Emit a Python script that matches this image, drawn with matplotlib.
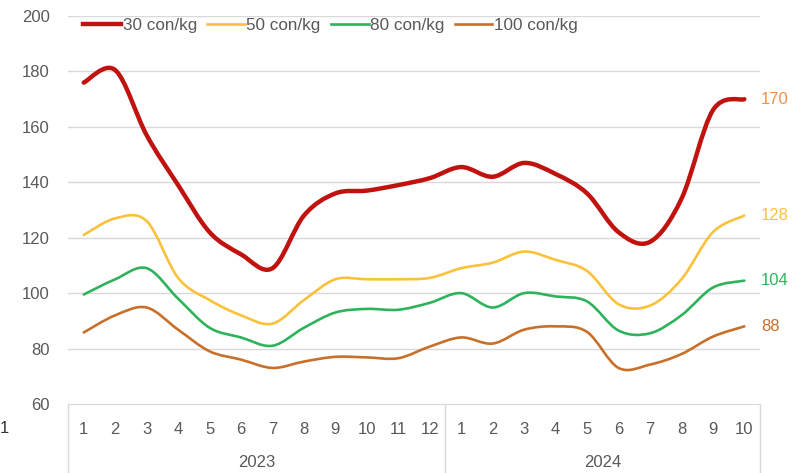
import numpy as np
import matplotlib.pyplot as plt
from matplotlib.path import Path
from matplotlib.patches import PathPatch
from matplotlib.lines import Line2D

plt.rcParams['font.family'] = ['Liberation Sans Narrow', 'Liberation Sans', 'DejaVu Sans']

# data: monthly prices by pig weight class
months = ['1', '2', '3', '4', '5', '6', '7', '8', '9', '10', '11', '12',
          '1', '2', '3', '4', '5', '6', '7', '8', '9', '10']
years = ['2023', '2024']
year_lengths = [12, 10]

s30 = [176, 180.5, 157, 139, 122, 114, 109, 128, 136, 137, 139, 141.5,
       145.5, 142, 147, 143, 136, 122, 118.5, 134, 166, 170]
s50 = [121, 127, 126, 105.5, 97.5, 92, 89, 97.5, 105, 105, 105, 105.5,
       109, 111, 115, 112, 108, 96, 95.5, 105, 122, 128]
s80 = [99.5, 105, 109, 98, 87.5, 84, 81, 87.5, 93, 94.3, 94, 96.5,
       100, 94.8, 100, 98.8, 97, 86.5, 85.5, 92, 102, 104.5]
s100 = [85.8, 92, 94.8, 86.8, 79, 76, 73, 75.3, 77, 76.8, 76.5, 80.7,
        84, 81.8, 86.8, 88, 86, 73, 74.2, 78, 84.3, 88]

names = ['30 con/kg', '50 con/kg', '80 con/kg', '100 con/kg']
series = [s30, s50, s80, s100]
colors = ['#C0130F', '#FAC23A', '#2EB35C', '#C8702A']
widths = [3.2, 1.9, 1.9, 1.9]
end_labels = ['170', '128', '104', '88']
end_colors = ['#F0904A', '#FAC23A', '#2EB35C', '#C8702A']


# smooth path like a spreadsheet "smoothed line" (Bezier through every point)
def smoothPath(x, y, t=1/6):
    x = np.asarray(x, float)
    y = np.asarray(y, float)
    n = len(x)
    verts = [(x[0], y[0])]
    codes = [Path.MOVETO]
    for i in range(n - 1):
        x0, y0 = (x[i - 1], y[i - 1]) if i > 0 else (x[i], y[i])
        x3, y3 = (x[i + 2], y[i + 2]) if i + 2 < n else (x[i + 1], y[i + 1])
        c1 = (x[i] + (x[i + 1] - x0) * t, y[i] + (y[i + 1] - y0) * t)
        c2 = (x[i + 1] - (x3 - x[i]) * t, y[i + 1] - (y3 - y[i]) * t)
        verts += [c1, c2, (x[i + 1], y[i + 1])]
        codes += [Path.CURVE4] * 3
    return Path(verts, codes)


fig = plt.figure(figsize=(8.06, 4.73), dpi=100)
ax = fig.add_axes([0.0844, 0.146, 0.8586, 0.820])

xs = np.arange(len(months))
grid_col = '#D9D9D9'
text_col = '#595959'

for v in [80, 100, 120, 140, 160, 180, 200]:
    ax.axhline(v, color=grid_col, lw=1, zorder=0)

handles = []
for vals, col, lw, name in zip(series, colors, widths, names):
    patch = PathPatch(smoothPath(xs, vals), facecolor='none', edgecolor=col,
                      lw=lw, capstyle='round', joinstyle='round', zorder=3)
    ax.add_patch(patch)
    handles.append(Line2D([], [], color=col, lw=lw, label=name))

for vals, lab, col in zip(series, end_labels, end_colors):
    ax.annotate(lab, (xs[-1], vals[-1]), xytext=(12, 0), textcoords='offset points',
                color=col, fontsize=12, va='center', ha='left', annotation_clip=False)

ax.set_xlim(-0.5, len(months) - 0.5)
ax.set_ylim(60, 200)
ax.set_yticks(range(60, 201, 20))
ax.set_xticks(xs)
ax.set_xticklabels(months)
ax.tick_params(axis='both', length=0, labelsize=12, colors=text_col)
ax.tick_params(axis='x', pad=13)
ax.tick_params(axis='y', pad=13)
for sp in ['top', 'right', 'left']:
    ax.spines[sp].set_visible(False)
ax.spines['bottom'].set_color(grid_col)

# year groups under the month labels
bounds = np.concatenate([[0], np.cumsum(year_lengths)]) - 0.5
trans = ax.get_xaxis_transform()
for b in bounds:
    ax.plot([b, b], [0, -0.2], color=grid_col, lw=1, transform=trans, clip_on=False)
for i, yr in enumerate(years):
    ax.text((bounds[i] + bounds[i + 1]) / 2, -0.152, yr, transform=trans,
            ha='center', va='center', fontsize=12, color=text_col)

ax.legend(handles=handles, loc='upper left', bbox_to_anchor=(0.0, 1.035), ncol=4,
          frameon=False, fontsize=12.3, labelcolor=text_col, handlelength=2.2,
          handletextpad=0.1, columnspacing=0.6)

# cropped label at the left edge
fig.text(0.0, 0.095, '1', fontsize=12, color='#333333', ha='left', va='center')

fig.savefig('out.png', dpi=100)
